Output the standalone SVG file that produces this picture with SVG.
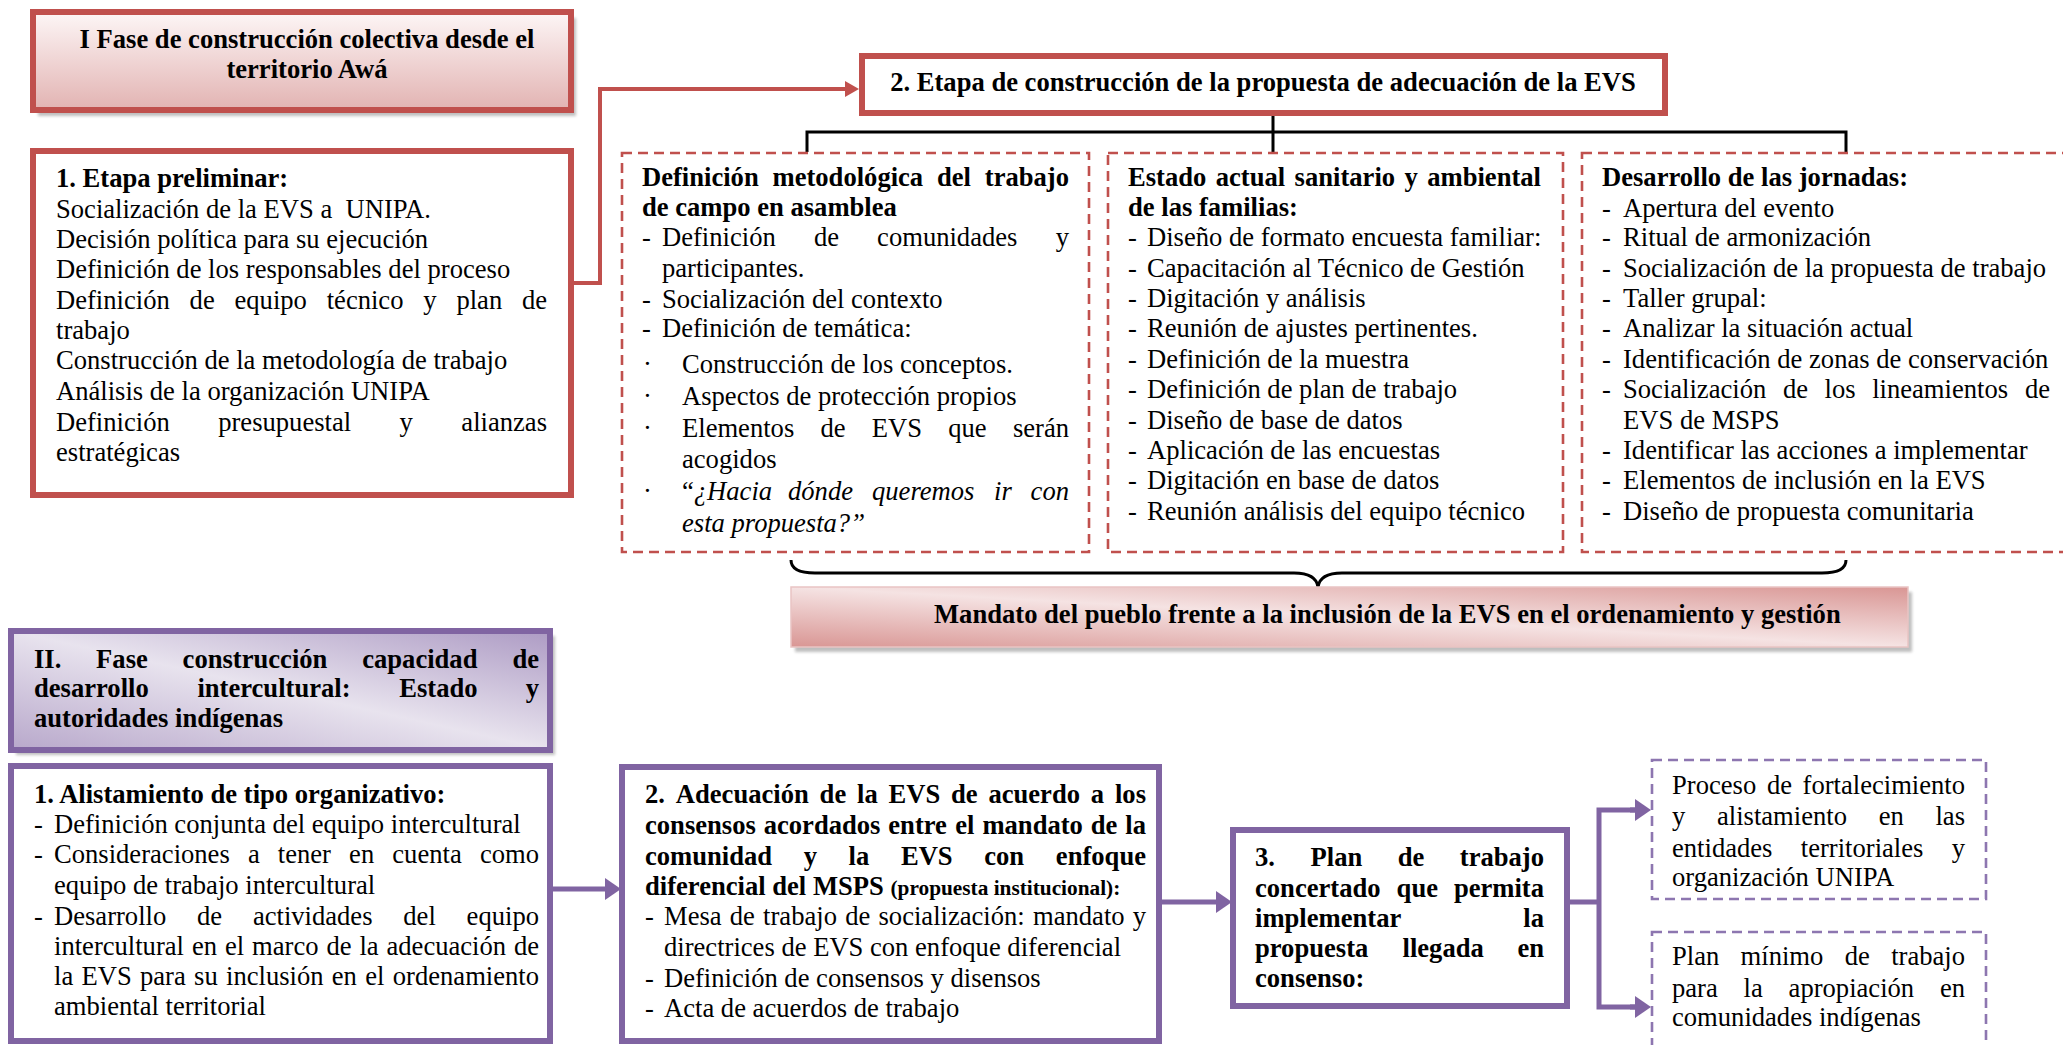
<svg xmlns="http://www.w3.org/2000/svg" width="2063" height="1045" viewBox="0 0 2063 1045">
<style>
.t{font-family:"Liberation Serif","Times New Roman",serif;font-size:26.6px;fill:#000}
.b{font-weight:bold}
.i{font-style:italic}
.e{text-anchor:end}
.m{text-anchor:middle}
.s{font-size:21.3px}
.red{fill:#fff;stroke:#c0504d;stroke-width:6}
.pur{fill:#fff;stroke:#8064a2;stroke-width:6}
.rd{fill:#fff;stroke:#c0504d;stroke-width:2.6;stroke-dasharray:10 6}
.pd{fill:#fff;stroke:#8d76b0;stroke-width:2.6;stroke-dasharray:10 6}
.sh{fill:#8a8a8a;opacity:.55;filter:url(#blur)}
.cr{fill:none;stroke:#c0504d;stroke-width:4}
.cp{fill:none;stroke:#8064a2;stroke-width:5}
.ck{fill:none;stroke:#000;stroke-width:3}
</style>
<defs>
<filter id="blur" x="-5%" y="-20%" width="110%" height="140%"><feGaussianBlur stdDeviation="1.5"/></filter>
<linearGradient id="gI" x1="0" y1="0" x2="0" y2="1"><stop offset="0" stop-color="#fdf6f6"/><stop offset="1" stop-color="#e2b3b2"/></linearGradient>
<linearGradient id="gM" x1="0" y1="1" x2="1" y2="0"><stop offset="0" stop-color="#d99694"/><stop offset="0.5" stop-color="#f5e3e3"/><stop offset="1" stop-color="#d99694"/></linearGradient>
<linearGradient id="gII" x1="0" y1="1" x2="1" y2="0"><stop offset="0" stop-color="#b8a8cb"/><stop offset="0.5" stop-color="#e8e3ee"/><stop offset="1" stop-color="#ad9bc4"/></linearGradient>
<marker id="ar" markerUnits="userSpaceOnUse" viewBox="0 0 14 16" refX="4" refY="8" markerWidth="14" markerHeight="16" orient="auto"><path d="M0 0 L14 8 L0 16 z" fill="#c0504d"/></marker>
<marker id="ap" markerUnits="userSpaceOnUse" viewBox="0 0 16 22" refX="4" refY="11" markerWidth="16" markerHeight="22" orient="auto"><path d="M0 0 L16 11 L0 22 z" fill="#8064a2"/></marker>
</defs>

<g id="connectors">
<path class="cr" d="M574 283 H600 V89 H849" marker-end="url(#ar)"/>
<path class="ck" d="M807 152 V132 H1846 V152 M1273 116 V152"/>
<path class="ck" stroke-width="4" d="M791 560 Q791 573 815 573 H1294 Q1316 573 1318 587 Q1320 573 1342 573 H1822 Q1846 573 1846 560"/>
<path class="cp" d="M553 889 H609" marker-end="url(#ap)"/>
<path class="cp" d="M1162 902 H1220" marker-end="url(#ap)"/>
<path class="cp" d="M1570 902 H1599 M1599 807.5 V1009.5 M1599 810 H1639 M1599 1007 H1639"/>
<path class="cp" d="M1630 810 H1639" marker-end="url(#ap)"/>
<path class="cp" d="M1630 1007 H1639" marker-end="url(#ap)"/>
</g>

<g id="fase1">
<rect class="sh" x="38" y="18" width="538" height="98"/>
<rect x="33" y="12" width="538" height="98" fill="url(#gI)" stroke="#c0504d" stroke-width="6"/>
<text class="t b m" x="307" y="48">I Fase de construcción colectiva desde el</text>
<text class="t b m" x="307" y="78">territorio Awá</text>
</g>

<g id="etapa1">
<rect class="red" x="33" y="151" width="538" height="344"/>
<text class="t b" x="56" y="187">1. Etapa preliminar:</text>
<text class="t" x="56" y="218" style="white-space:pre">Socialización de la EVS a  UNIPA.</text>
<text class="t" x="56" y="248">Decisión política para su ejecución</text>
<text class="t" x="56" y="278">Definición de los responsables del proceso</text>
<text class="t" y="309"><tspan x="56">Definición</tspan><tspan x="189.6">de</tspan><tspan x="234.5">equipo</tspan><tspan x="326.7">técnico</tspan><tspan x="423.3">y</tspan><tspan x="456.4">plan</tspan></text>
<text class="t e" x="547" y="309">de</text>
<text class="t" x="56" y="339">trabajo</text>
<text class="t" x="56" y="369">Construcción de la metodología de trabajo</text>
<text class="t" x="56" y="400">Análisis de la organización UNIPA</text>
<text class="t" y="431"><tspan x="56">Definición</tspan><tspan x="218.2">presupuestal</tspan><tspan x="399.6">y</tspan></text>
<text class="t e" x="547" y="431">alianzas</text>
<text class="t" x="56" y="461">estratégicas</text>
</g>

<g id="etapa2">
<rect class="red" x="862" y="56" width="803" height="57"/>
<text class="t b m" x="1263" y="91">2. Etapa de construcción de la propuesta de adecuación de la EVS</text>
</g>

<g id="metodologia">
<rect class="rd" x="622" y="153" width="467" height="399"/>
<text class="t b" y="186"><tspan x="642">Definición</tspan><tspan x="772.5">metodológica</tspan><tspan x="937">del</tspan></text>
<text class="t b e" x="1069" y="186">trabajo</text>
<text class="t b" x="642" y="216">de campo en asamblea</text>
<text class="t" y="246"><tspan x="642">-</tspan><tspan x="662">Definición</tspan><tspan x="813.9">de</tspan><tspan x="877.1">comunidades</tspan></text>
<text class="t e" x="1069" y="246">y</text>
<text class="t" x="662" y="277">participantes.</text>
<text class="t" y="308"><tspan x="642">-</tspan><tspan x="662">Socialización del contexto</tspan></text>
<text class="t" y="337"><tspan x="642">-</tspan><tspan x="662">Definición de temática:</tspan></text>
<text class="t" y="373"><tspan x="643">·</tspan><tspan x="682">Construcción de los conceptos.</tspan></text>
<text class="t" y="405"><tspan x="643">·</tspan><tspan x="682">Aspectos de protección propios</tspan></text>
<text class="t" y="437"><tspan x="643">·</tspan><tspan x="682">Elementos</tspan><tspan x="820.5">de</tspan><tspan x="871.8">EVS</tspan><tspan x="948.2">que</tspan></text>
<text class="t e" x="1069" y="437">serán</text>
<text class="t" x="682" y="468">acogidos</text>
<text class="t" y="500"><tspan x="643">·</tspan><tspan x="682">“</tspan><tspan class="i">¿Hacia</tspan><tspan class="i" x="788">dónde</tspan><tspan class="i" x="872">queremos</tspan><tspan class="i" x="994">ir</tspan></text>
<text class="t i e" x="1069" y="500">con</text>
<text class="t i" x="682" y="532">esta propuesta?”</text>
</g>

<g id="estado">
<rect class="rd" x="1108" y="153" width="455" height="399"/>
<text class="t b" y="186"><tspan x="1128">Estado</tspan><tspan x="1215.7">actual</tspan><tspan x="1294.6">sanitario</tspan><tspan x="1404.5">y</tspan></text>
<text class="t b e" x="1541" y="186">ambiental</text>
<text class="t b" x="1128" y="216">de las familias:</text>
<text class="t" y="246"><tspan x="1128">-</tspan><tspan x="1147">Diseño de formato encuesta familiar:</tspan></text>
<text class="t" y="277"><tspan x="1128">-</tspan><tspan x="1147">Capacitación al Técnico de Gestión</tspan></text>
<text class="t" y="307"><tspan x="1128">-</tspan><tspan x="1147">Digitación y análisis</tspan></text>
<text class="t" y="337"><tspan x="1128">-</tspan><tspan x="1147">Reunión de ajustes pertinentes.</tspan></text>
<text class="t" y="368"><tspan x="1128">-</tspan><tspan x="1147">Definición de la muestra</tspan></text>
<text class="t" y="398"><tspan x="1128">-</tspan><tspan x="1147">Definición de plan de trabajo</tspan></text>
<text class="t" y="429"><tspan x="1128">-</tspan><tspan x="1147">Diseño de base de datos</tspan></text>
<text class="t" y="459"><tspan x="1128">-</tspan><tspan x="1147">Aplicación de las encuestas</tspan></text>
<text class="t" y="489"><tspan x="1128">-</tspan><tspan x="1147">Digitación en base de datos</tspan></text>
<text class="t" y="520"><tspan x="1128">-</tspan><tspan x="1147">Reunión análisis del equipo técnico</tspan></text>
</g>

<g id="jornadas">
<rect class="rd" x="1582" y="153" width="500" height="399"/>
<text class="t b" x="1602" y="186">Desarrollo de las jornadas:</text>
<text class="t" y="217"><tspan x="1602">-</tspan><tspan x="1623">Apertura del evento</tspan></text>
<text class="t" y="246"><tspan x="1602">-</tspan><tspan x="1623">Ritual de armonización</tspan></text>
<text class="t" y="277"><tspan x="1602">-</tspan><tspan x="1623">Socialización de la propuesta de trabajo</tspan></text>
<text class="t" y="307"><tspan x="1602">-</tspan><tspan x="1623">Taller grupal:</tspan></text>
<text class="t" y="337"><tspan x="1602">-</tspan><tspan x="1623">Analizar la situación actual</tspan></text>
<text class="t" y="368"><tspan x="1602">-</tspan><tspan x="1623">Identificación de zonas de conservación</tspan></text>
<text class="t" y="398"><tspan x="1602">-</tspan><tspan x="1623">Socialización</tspan><tspan x="1782.9">de</tspan><tspan x="1824.6">los</tspan><tspan x="1872.2">lineamientos</tspan></text>
<text class="t e" x="2050" y="398">de</text>
<text class="t" x="1623" y="429">EVS de MSPS</text>
<text class="t" y="459"><tspan x="1602">-</tspan><tspan x="1623">Identificar las acciones a implementar</tspan></text>
<text class="t" y="489"><tspan x="1602">-</tspan><tspan x="1623">Elementos de inclusión en la EVS</tspan></text>
<text class="t" y="520"><tspan x="1602">-</tspan><tspan x="1623">Diseño de propuesta comunitaria</tspan></text>
</g>

<g id="mandato">
<rect class="sh" x="795" y="592" width="1117" height="60"/>
<rect x="791" y="587" width="1117" height="60" fill="url(#gM)" stroke="#e9c4c3" stroke-width="1.5"/>
<text class="t b" x="934" y="623">Mandato del pueblo frente a la inclusión de la EVS en el ordenamiento y gestión</text>
</g>

<g id="fase2">
<rect class="sh" x="16" y="636" width="539" height="119"/>
<rect x="11" y="631" width="539" height="119" fill="url(#gII)" stroke="#8064a2" stroke-width="6"/>
<text class="t b" y="668"><tspan x="34">II.</tspan><tspan x="96.1">Fase</tspan><tspan x="182.6">construcción</tspan><tspan x="362.2">capacidad</tspan></text>
<text class="t b e" x="539" y="668">de</text>
<text class="t b" y="697"><tspan x="34">desarrollo</tspan><tspan x="197.4">intercultural:</tspan><tspan x="399.2">Estado</tspan></text>
<text class="t b e" x="539" y="697">y</text>
<text class="t b" x="34" y="727">autoridades indígenas</text>
</g>

<g id="alistamiento">
<rect class="pur" x="11" y="766" width="539" height="275"/>
<text class="t b" x="34" y="803">1. Alistamiento de tipo organizativo:</text>
<text class="t" y="833"><tspan x="34">-</tspan><tspan x="54">Definición conjunta del equipo intercultural</tspan></text>
<text class="t" y="863"><tspan x="34">-</tspan><tspan x="54">Consideraciones</tspan><tspan x="247.9">a</tspan><tspan x="277.8">tener</tspan><tspan x="349.1">en</tspan><tspan x="392.3">cuenta</tspan></text>
<text class="t e" x="539" y="863">como</text>
<text class="t" x="54" y="894">equipo de trabajo intercultural</text>
<text class="t" y="925"><tspan x="34">-</tspan><tspan x="54">Desarrollo</tspan><tspan x="197">de</tspan><tspan x="252.9">actividades</tspan><tspan x="403.3">del</tspan></text>
<text class="t e" x="539" y="925">equipo</text>
<text class="t" y="955"><tspan x="54">intercultural</tspan><tspan x="192">en</tspan><tspan x="225">el</tspan><tspan x="252.1">marco</tspan><tspan x="326.4">de</tspan><tspan x="359.4">la</tspan><tspan x="386.5">adecuación</tspan></text>
<text class="t e" x="539" y="955">de</text>
<text class="t" y="985"><tspan x="54">la</tspan><tspan x="81.5">EVS</tspan><tspan x="140">para</tspan><tspan x="194.1">su</tspan><tspan x="226">inclusión</tspan><tspan x="331.8">en</tspan><tspan x="365.2">el</tspan></text>
<text class="t e" x="539" y="985">ordenamiento</text>
<text class="t" x="54" y="1015">ambiental territorial</text>
</g>

<g id="adecuacion">
<rect class="pur" x="622" y="767" width="537" height="274"/>
<text class="t b" y="803"><tspan x="645">2.</tspan><tspan x="675.8">Adecuación</tspan><tspan x="819.6">de</tspan><tspan x="857">la</tspan><tspan x="888.5">EVS</tspan><tspan x="951">de</tspan><tspan x="988.4">acuerdo</tspan><tspan x="1090.8">a</tspan></text>
<text class="t b e" x="1146" y="803">los</text>
<text class="t b" y="834"><tspan x="645">consensos</tspan><tspan x="763.7">acordados</tspan><tspan x="888.3">entre</tspan><tspan x="955.3">el</tspan><tspan x="982.4">mandato</tspan><tspan x="1090.8">de</tspan></text>
<text class="t b e" x="1146" y="834">la</text>
<text class="t b" y="865"><tspan x="645">comunidad</tspan><tspan x="803.7">y</tspan><tspan x="848.6">la</tspan><tspan x="900.9">EVS</tspan><tspan x="984.2">con</tspan></text>
<text class="t b e" x="1146" y="865">enfoque</text>
<text class="t b" y="895"><tspan x="645">diferencial del MSPS </tspan><tspan class="s">(propuesta institucional):</tspan></text>
<text class="t" y="925"><tspan x="645">-</tspan><tspan x="664">Mesa</tspan><tspan x="729.8">de</tspan><tspan x="763.1">trabajo</tspan><tspan x="845.2">de</tspan><tspan x="878.5">socialización:</tspan><tspan x="1033">mandato</tspan></text>
<text class="t e" x="1146" y="925">y</text>
<text class="t" x="664" y="956">directrices de EVS con enfoque diferencial</text>
<text class="t" y="987"><tspan x="645">-</tspan><tspan x="664">Definición de consensos y disensos</tspan></text>
<text class="t" y="1017"><tspan x="645">-</tspan><tspan x="664">Acta de acuerdos de trabajo</tspan></text>
</g>

<g id="plan">
<rect class="pur" x="1233" y="830" width="334" height="176"/>
<text class="t b" y="866"><tspan x="1255">3.</tspan><tspan x="1310.5">Plan</tspan><tspan x="1397.7">de</tspan></text>
<text class="t b e" x="1544" y="866">trabajo</text>
<text class="t b" x="1255" y="897">concertado <tspan x="1396.6">que</tspan></text>
<text class="t b e" x="1544" y="897">permita</text>
<text class="t b" x="1255" y="927">implementar</text>
<text class="t b e" x="1544" y="927">la</text>
<text class="t b" x="1255" y="957">propuesta <tspan x="1402.5">llegada</tspan></text>
<text class="t b e" x="1544" y="957">en</text>
<text class="t b" x="1255" y="987">consenso:</text>
</g>

<g id="fortalecimiento">
<rect class="pd" x="1652" y="760" width="334" height="139"/>
<text class="t" x="1672" y="794">Proceso <tspan x="1767">de</tspan></text>
<text class="t e" x="1965" y="794">fortalecimiento</text>
<text class="t" y="825"><tspan x="1672">y</tspan><tspan x="1717">alistamiento</tspan><tspan x="1878.7">en</tspan></text>
<text class="t e" x="1965" y="825">las</text>
<text class="t" x="1672" y="857">entidades <tspan x="1800.8">territoriales</tspan></text>
<text class="t e" x="1965" y="857">y</text>
<text class="t" x="1672" y="886">organización UNIPA</text>
</g>

<g id="planminimo">
<rect class="pd" x="1652" y="932" width="334" height="140"/>
<text class="t" y="965"><tspan x="1672">Plan</tspan><tspan x="1740.6">mínimo</tspan><tspan x="1844.7">de</tspan></text>
<text class="t e" x="1965" y="965">trabajo</text>
<text class="t" y="997"><tspan x="1672">para</tspan><tspan x="1743.6">la</tspan><tspan x="1788.6">apropiación</tspan></text>
<text class="t e" x="1965" y="997">en</text>
<text class="t" x="1672" y="1026">comunidades indígenas</text>
</g>
</svg>
